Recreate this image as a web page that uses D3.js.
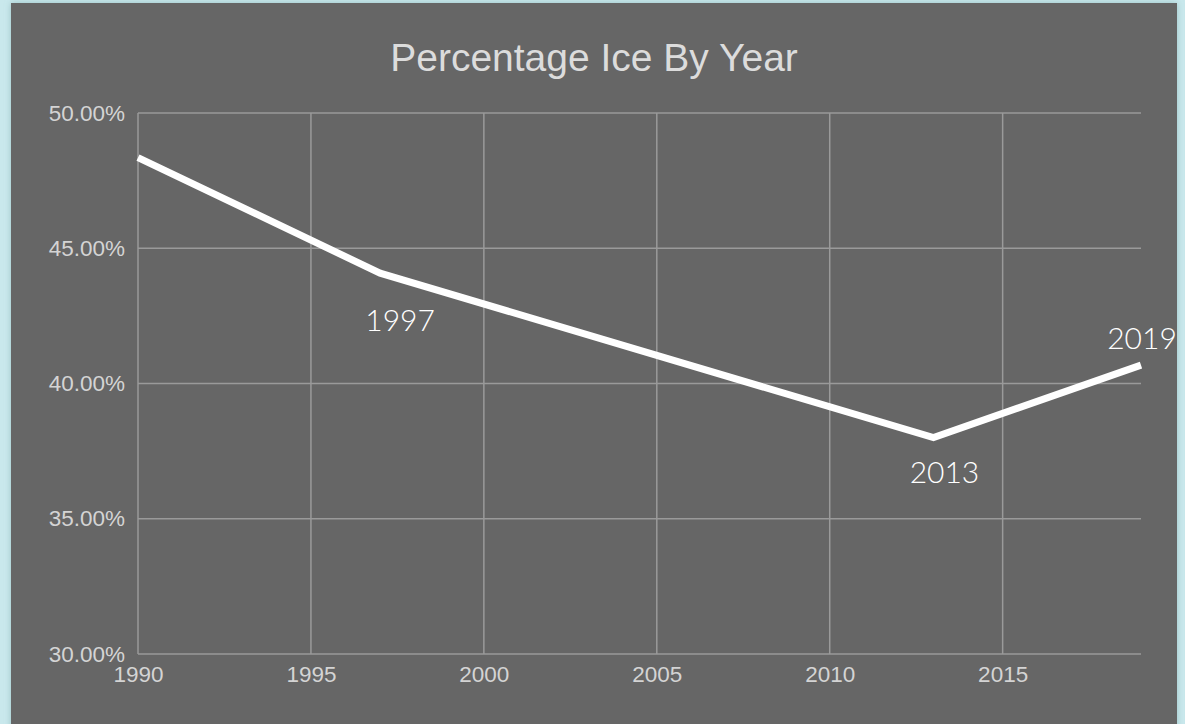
<!DOCTYPE html>
<html>
<head>
<meta charset="utf-8">
<script src="https://cdn.jsdelivr.net/npm/d3@7"></script>
<style>
  body { margin: 0; background: #c9e8ec; }
  svg { display: block; }
</style>
</head>
<body>
<svg id="chart" width="1185" height="724"></svg>
<script>
// data
const years = [1990, 1997, 2013, 2019];
const iceShare = [48.35, 44.08, 38.0, 40.68];
const labelledYears = ["1997", "2013", "2019"];
const xTicks = [1990, 1995, 2000, 2005, 2010, 2015];
const yTicks = [30, 35, 40, 45, 50];

const width = 1185, height = 724;
const margin = { top: 113, right: 44, bottom: 70, left: 138 };

const svg = d3.select("#chart");

// panel with a soft shadow
const defs = svg.append("defs");
const f = defs.append("filter").attr("id", "shadow").attr("x", "-5%").attr("y", "-5%").attr("width", "110%").attr("height", "110%");
f.append("feDropShadow").attr("dx", 0).attr("dy", 0).attr("stdDeviation", 3).attr("flood-color", "#7fa9ad").attr("flood-opacity", 0.6);

svg.append("rect")
    .attr("x", 11).attr("y", 3)
    .attr("width", 1166).attr("height", 730)
    .attr("fill", "#666666")
    .attr("filter", "url(#shadow)");

const x = d3.scaleLinear()
    .domain([1990, 2019])
    .range([margin.left, width - margin.right]);

const y = d3.scaleLinear()
    .domain([30, 50])
    .range([height - margin.bottom, margin.top]);

// grid
svg.append("g")
    .selectAll("line.h")
    .data(yTicks)
    .join("line")
    .attr("x1", x(1990)).attr("x2", x(2019))
    .attr("y1", d => y(d)).attr("y2", d => y(d))
    .attr("stroke", "#9a9a9a").attr("stroke-width", 1.5);

svg.append("g")
    .selectAll("line.v")
    .data(xTicks)
    .join("line")
    .attr("x1", d => x(d)).attr("x2", d => x(d))
    .attr("y1", y(50)).attr("y2", y(30))
    .attr("stroke", "#9a9a9a").attr("stroke-width", 1.5);

// axes (labels only)
const yAxis = d3.axisLeft(y).tickValues(yTicks).tickFormat(d => d.toFixed(2) + "%").tickSize(0).tickPadding(13);
svg.append("g")
    .attr("transform", `translate(${margin.left},0)`)
    .call(yAxis)
    .call(g => g.select(".domain").remove())
    .selectAll("text")
    .attr("fill", "#d4d4d4")
    .style("font-family", "Liberation Sans, Arial, sans-serif")
    .style("font-size", "22.5px");

const xAxis = d3.axisBottom(x).tickValues(xTicks).tickFormat(d3.format("d")).tickSize(0).tickPadding(12);
svg.append("g")
    .attr("transform", `translate(0,${y(30)})`)
    .call(xAxis)
    .call(g => g.select(".domain").remove())
    .selectAll("text")
    .attr("fill", "#d4d4d4")
    .style("font-family", "Liberation Sans, Arial, sans-serif")
    .style("font-size", "22.5px");

// line
const line = d3.line()
    .x((d, i) => x(years[i]))
    .y(d => y(d));

svg.append("path")
    .datum(iceShare)
    .attr("d", line)
    .attr("fill", "none")
    .attr("stroke", "#ffffff")
    .attr("stroke-width", 7);

// title
svg.append("text")
    .text("Percentage Ice By Year")
    .attr("x", 594)
    .attr("y", 71)
    .attr("text-anchor", "middle")
    .attr("fill", "#dcdcdc")
    .style("font-family", "Liberation Sans, Arial, sans-serif")
    .style("font-size", "39px");

// point labels
const labelOffsets = { "1997": [20, 58], "2013": [11, 45], "2019": [1, -16] };
svg.append("g")
    .selectAll("text")
    .data(labelledYears)
    .join("text")
    .text(d => d)
    .attr("x", d => x(+d) + labelOffsets[d][0])
    .attr("y", d => y(iceShare[years.indexOf(+d)]) + labelOffsets[d][1])
    .attr("text-anchor", "middle")
    .attr("fill", "#ffffff")
    .style("font-family", "Lato, 'Open Sans', sans-serif")
    .style("font-weight", 300)
    .style("font-size", "30px");
</script>
</body>
</html>
